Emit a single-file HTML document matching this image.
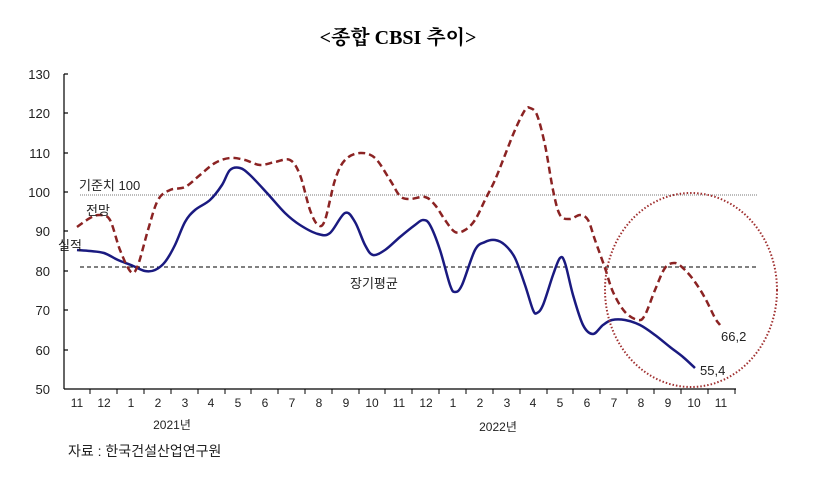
<!DOCTYPE html>
<html><head><meta charset="utf-8"><style>
body{margin:0;background:#fff;}
svg{display:block;font-family:"Liberation Sans","Noto Sans CJK KR",sans-serif;}
</style></head><body>
<svg width="813" height="479" viewBox="0 0 813 479">
<text x="398" y="44" text-anchor="middle" font-size="20" font-weight="bold" font-family="Liberation Serif,'Noto Serif CJK SC',serif">&lt;종합 CBSI 추이&gt;</text>
<g font-size="13" fill="#222" text-anchor="end">
<text x="50" y="79">130</text><text x="50" y="118">120</text><text x="50" y="158">110</text><text x="50" y="197">100</text>
<text x="50" y="236">90</text><text x="50" y="276">80</text><text x="50" y="315">70</text><text x="50" y="355">60</text><text x="50" y="394">50</text>
</g>
<g stroke="#000" stroke-width="1.2">
<line x1="64" y1="74" x2="64" y2="389"/><line x1="64" y1="389" x2="736" y2="389"/>
<line x1="64" y1="74" x2="68" y2="74"/><line x1="64" y1="113" x2="68" y2="113"/><line x1="64" y1="153" x2="68" y2="153"/><line x1="64" y1="192" x2="68" y2="192"/><line x1="64" y1="231" x2="68" y2="231"/><line x1="64" y1="271" x2="68" y2="271"/><line x1="64" y1="310" x2="68" y2="310"/><line x1="64" y1="350" x2="68" y2="350"/>
</g>
<g stroke="#000" stroke-width="1">
<path d="M90 389v5M117 389v5M144 389v5M171 389v5M198 389v5M225 389v5M251 389v5M278 389v5M305 389v5M332 389v5M359 389v5M385 389v5M412 389v5M439 389v5M466 389v5M493 389v5M520 389v5M547 389v5M573 389v5M600 389v5M627 389v5M654 389v5M681 389v5M708 389v5M735 389v5"/>
</g>
<g font-size="12" fill="#222" text-anchor="middle">
<text x="77" y="407">11</text><text x="104" y="407">12</text><text x="131" y="407">1</text><text x="158" y="407">2</text><text x="185" y="407">3</text><text x="211" y="407">4</text><text x="238" y="407">5</text><text x="265" y="407">6</text><text x="292" y="407">7</text><text x="319" y="407">8</text><text x="346" y="407">9</text><text x="372" y="407">10</text><text x="399" y="407">11</text><text x="426" y="407">12</text><text x="453" y="407">1</text><text x="480" y="407">2</text><text x="507" y="407">3</text><text x="533" y="407">4</text><text x="560" y="407">5</text><text x="587" y="407">6</text><text x="614" y="407">7</text><text x="641" y="407">8</text><text x="668" y="407">9</text><text x="694" y="407">10</text><text x="721" y="407">11</text>
<text x="172" y="429">2021년</text><text x="498" y="431">2022년</text>
</g>
<line x1="80" y1="195" x2="757" y2="195" stroke="#777" stroke-width="1" stroke-dasharray="1,1"/>
<line x1="80" y1="267" x2="757" y2="267" stroke="#000" stroke-width="1" stroke-dasharray="4,3"/>
<polyline class="sm" fill="none" stroke="#1a1a80" stroke-width="2.5" stroke-linejoin="round" points="77,250 90,251 104,253 118,260 131,265 145,271 155,270 165,262 175,245 185,222 195,210 210,200 222,185 230,170 240,168 250,175 267,193 285,213 300,225 318,234 330,233 345,213 355,222 365,245 373,255 385,250 400,237 415,225 423,220 430,225 440,250 450,285 455,292 462,285 475,250 485,242 495,240 505,245 515,258 525,285 533,310 537,313 543,305 553,275 560,258 565,263 573,295 583,325 593,334 603,325 612,320 625,320 640,325 655,335 670,347 683,357 695,368"/>
<polyline class="sm" fill="none" stroke="#8b2323" stroke-width="2.5" stroke-dasharray="7,4" stroke-linejoin="round" points="77,227 90,218 100,215 110,220 120,250 131,272 138,265 148,230 158,200 170,190 185,187 200,175 215,163 230,158 245,160 260,165 275,162 290,160 300,175 310,210 318,225 325,220 335,180 345,160 360,153 375,158 390,180 400,196 410,199 425,197 435,205 445,220 455,232 465,230 475,220 485,200 495,180 505,155 515,130 525,110 530,108 537,115 545,145 553,190 560,215 570,219 580,215 588,220 595,240 605,268 613,292 625,312 638,320 645,315 655,290 665,268 675,263 685,270 695,282 705,298 715,318 720,325"/>
<ellipse cx="691" cy="290" rx="86" ry="97" fill="none" stroke="#a03030" stroke-width="2" stroke-dasharray="1.5,2"/>
<g font-size="13" fill="#222">
<text x="79" y="190">기준치 100</text><text x="86" y="215">전망</text><text x="58" y="250">실적</text><text x="350" y="288">장기평균</text>
<text x="721" y="341">66,2</text><text x="700" y="375">55,4</text>
<text x="68" y="456" font-size="14">자료 : 한국건설산업연구원</text>
</g>
</svg>
<script>
document.querySelectorAll('polyline.sm').forEach(function(pl){
  var p=pl.getAttribute('points').trim().split(/\s+/).map(function(s){return s.split(',').map(Number);});
  var d='M'+p[0][0]+' '+p[0][1];
  for(var i=0;i<p.length-1;i++){
    var p0=p[i-1]||p[i],p1=p[i],p2=p[i+1],p3=p[i+2]||p2;
    var c1x=p1[0]+(p2[0]-p0[0])/6,c1y=p1[1]+(p2[1]-p0[1])/6;
    var c2x=p2[0]-(p3[0]-p1[0])/6,c2y=p2[1]-(p3[1]-p1[1])/6;
    d+=' C'+c1x.toFixed(1)+' '+c1y.toFixed(1)+' '+c2x.toFixed(1)+' '+c2y.toFixed(1)+' '+p2[0]+' '+p2[1];
  }
  var path=document.createElementNS('http://www.w3.org/2000/svg','path');
  ['fill','stroke','stroke-width','stroke-dasharray','stroke-linejoin'].forEach(function(a){if(pl.getAttribute(a))path.setAttribute(a,pl.getAttribute(a));});
  path.setAttribute('d',d);
  pl.parentNode.replaceChild(path,pl);
});
</script>
</body></html>
